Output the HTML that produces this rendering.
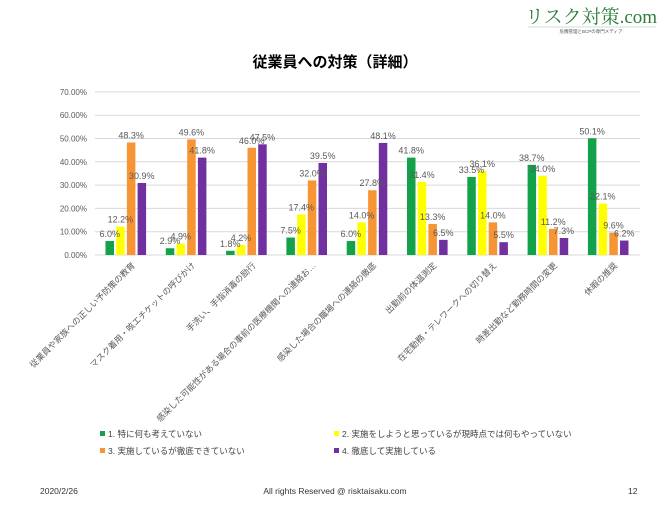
<!DOCTYPE html>
<html><head><meta charset="utf-8"><style>
body{margin:0;background:#fff;width:670px;height:502px;overflow:hidden}
svg text{font-family:"Liberation Sans","Noto Sans CJK JP",sans-serif}
</style></head><body>
<svg width="670" height="502" xmlns="http://www.w3.org/2000/svg">
<text x="591" y="23" font-size="19" fill="#2e7d3a" text-anchor="middle" style="font-family:'Liberation Serif','Noto Serif CJK SC',serif">リスク対策.com</text>
<text x="591" y="33" font-size="4.5" fill="#555" text-anchor="middle">危機管理とBCPの専門メディア</text>
<line x1="528" y1="27" x2="656" y2="27" stroke="#9bb" stroke-width="0.6"/>
<text x="335" y="67" font-size="15" font-weight="bold" text-anchor="middle" fill="#000">従業員への対策（詳細）</text>
<g id="grid" stroke="#d9d9d9" stroke-width="1"></g>
<g id="bars"></g>
<g font-size="9" fill="#595959" id="labels"></g>
<g font-size="8.5" fill="#595959" id="cats"></g>
<g font-size="8.5" fill="#404040">
<rect x="100" y="431" width="5" height="5" fill="#13a24a"/><text x="108" y="437">1. 特に何も考えていない</text>
<rect x="334" y="431" width="5" height="5" fill="#ffff00"/><text x="342" y="437">2. 実施をしようと思っているが現時点では何もやっていない</text>
<rect x="100" y="448" width="5" height="5" fill="#f79433"/><text x="108" y="454">3. 実施しているが徹底できていない</text>
<rect x="334" y="448" width="5" height="5" fill="#7030a0"/><text x="342" y="454">4. 徹底して実施している</text>
</g>
<g font-size="8.5" fill="#333">
<text x="40" y="494">2020/2/26</text>
<text x="335" y="494" text-anchor="middle">All rights Reserved @ risktaisaku.com</text>
<text x="628" y="494">12</text>
</g>
<script>
var ns="http://www.w3.org/2000/svg";
function el(p,t,a,txt){var e=document.createElementNS(ns,t);for(var k in a)e.setAttribute(k,a[k]);if(txt)e.textContent=txt;document.getElementById(p).appendChild(e);}
var y0=255,s=2.33;
for(var i=0;i<=7;i++){var y=y0-i*10*s;el("grid","line",{x1:95,x2:640,y1:y,y2:y});el("labels","text",{x:87,y:y+3,"text-anchor":"end","font-size":"8"},(i*10).toFixed(2)+"%");}
var d=[[6.0,12.2,48.3,30.9],[2.9,4.9,49.6,41.8],[1.8,4.2,46.0,47.5],[7.5,17.4,32.0,39.5],[6.0,14.0,27.8,48.1],[41.8,31.4,13.3,6.5],[33.5,36.1,14.0,5.5],[38.7,34.0,11.2,7.3],[50.1,22.1,9.6,6.2]];
var c=["#13a24a","#ffff00","#f79433","#7030a0"];
var cats=["従業員や家族への正しい予防策の教育","マスク着用・咳エチケットの呼びかけ","手洗い、手指消毒の励行","感染した可能性がある場合の事前の医療機関への連絡お…","感染した場合の職場への連絡の徹底","出勤前の体温測定","在宅勤務・テレワークへの切り替え","時差出勤など勤務時間の変更","休暇の推奨"];
for(var g=0;g<9;g++){var cx=125.5+g*60.3;
for(var j=0;j<4;j++){var x=cx-20+j*10.7,h=d[g][j]*s;
el("bars","rect",{x:x,y:y0-h,width:8.5,height:h,fill:c[j]});
el("labels","text",{x:x+4.2,y:y0-h-4,"text-anchor":"middle"},d[g][j].toFixed(1)+"%");}
var tx=cx+10,ty=266;el("cats","text",{x:tx,y:ty,"text-anchor":"end",transform:"rotate(-45 "+tx+" "+ty+")"},cats[g]);}
</script>
</svg>
</body></html>
